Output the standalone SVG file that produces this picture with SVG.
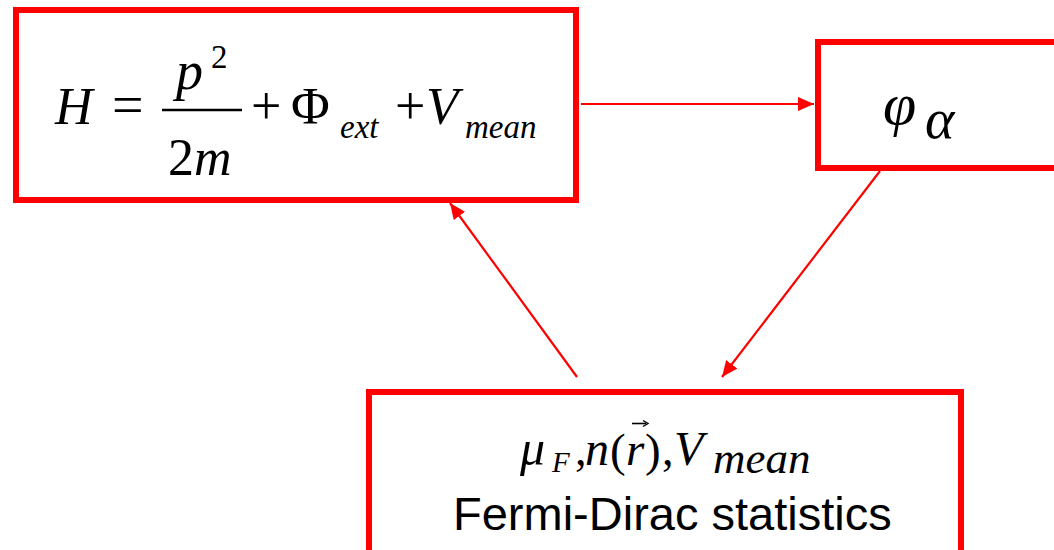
<svg xmlns="http://www.w3.org/2000/svg" width="1054" height="550" viewBox="0 0 1054 550">
<defs>
<style>
.box{fill:#FFFFFF;stroke:#FF0000;stroke-width:6}
.conn{stroke:#FF0000;stroke-width:2.2;fill:none}
</style>
<marker id="ah" markerUnits="userSpaceOnUse" markerWidth="17" markerHeight="14" refX="16" refY="7" orient="auto">
<path d="M0,0 L16,7 L0,14 z" fill="#FF0000"/>
</marker>
</defs>
<rect width="1054" height="550" fill="#FFFFFF"/>
<g id="node-hamiltonian">
<rect class="box" x="16" y="10" width="560" height="190"/>
<text x="55" y="124" font-size="52" font-family="Liberation Serif" font-style="italic">H</text>
<text x="112" y="124" font-size="56" font-family="Liberation Serif">=</text>
<text x="176" y="89" font-size="54" font-family="Liberation Serif" font-style="italic">p</text>
<text x="211" y="68" font-size="33" font-family="Liberation Serif">2</text>
<line x1="162" y1="110" x2="242" y2="110" stroke="#000000" stroke-width="2.5"/>
<text x="168" y="175" font-size="52" font-family="Liberation Serif">2<tspan font-style="italic">m</tspan></text>
<text x="251" y="124" font-size="54" font-family="Liberation Serif">+</text>
<text x="291" y="124" font-size="53" font-family="Liberation Serif">Φ</text>
<text x="340" y="138" font-size="33" font-family="Liberation Serif" font-style="italic">ext</text>
<text x="395" y="124" font-size="54" font-family="Liberation Serif">+</text>
<text x="426" y="124" font-size="53" font-family="Liberation Serif" font-style="italic">V</text>
<text x="465" y="138" font-size="33" font-family="Liberation Serif" font-style="italic">mean</text>
</g>
<g id="node-phi">
<rect class="box" x="818" y="42" width="300" height="126"/>
<text x="883" y="124" font-size="60" font-family="Liberation Serif" font-style="italic">φ</text>
<text x="925" y="138" font-size="56" font-family="Liberation Serif" font-style="italic">α</text>
</g>
<g id="node-fermi">
<rect class="box" x="369" y="392" width="592" height="200"/>
<text x="520" y="465" font-size="50" font-family="Liberation Serif" font-style="italic">μ</text>
<text x="552" y="472" font-size="29" font-family="Liberation Serif" font-style="italic">F</text>
<text x="575" y="465" font-size="46" font-family="Liberation Serif">,</text>
<text x="585" y="465" font-size="48" font-family="Liberation Serif" font-style="italic">n</text>
<text x="610" y="466" font-size="47" font-family="Liberation Serif">(</text>
<text x="626" y="465" font-size="47" font-family="Liberation Serif" font-style="italic">r</text>
<line x1="632" y1="423.5" x2="646" y2="423.5" stroke="#000000" stroke-width="1.6"/>
<path d="M643,420.5 L648,423.5 L643,426.5" fill="none" stroke="#000000" stroke-width="1.4"/>
<text x="645" y="466" font-size="47" font-family="Liberation Serif">)</text>
<text x="662" y="465" font-size="46" font-family="Liberation Serif">,</text>
<text x="674" y="465" font-size="48" font-family="Liberation Serif" font-style="italic">V</text>
<text x="713" y="473" font-size="45" font-family="Liberation Serif" font-style="italic">mean</text>
<text x="453" y="530" font-size="47" font-family="Liberation Sans">Fermi-Dirac statistics</text>
</g>
<g id="connectors">
<line class="conn" x1="581" y1="104" x2="814" y2="104" marker-end="url(#ah)"/>
<line class="conn" x1="577" y1="377" x2="450" y2="203" marker-end="url(#ah)"/>
<line class="conn" x1="880" y1="171" x2="722" y2="377" marker-end="url(#ah)"/>
</g>
</svg>
